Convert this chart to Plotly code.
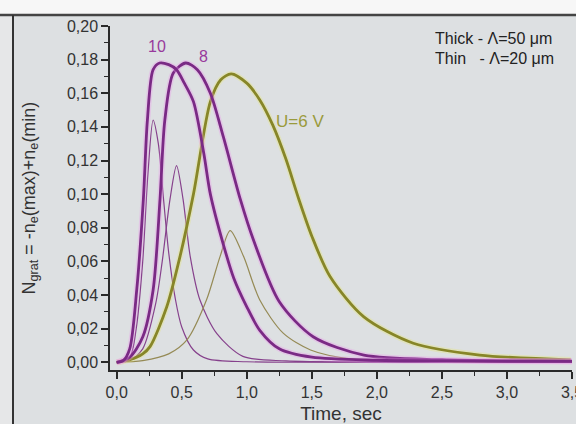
import plotly.graph_objects as go

# ---- data ----
thick10_x = [0, 0.05, 0.10, 0.154, 0.205, 0.236, 0.28, 0.33, 0.40, 0.46, 0.52, 0.59, 0.67, 0.72, 0.82, 0.90, 1.00, 1.10, 1.25, 1.50, 2.00, 2.50, 3.00, 3.50]
thick10_y = [0, 0.001, 0.008, 0.043, 0.097, 0.144, 0.174, 0.178, 0.177, 0.174, 0.166, 0.155, 0.124, 0.100, 0.070, 0.050, 0.033, 0.019, 0.008, 0.003, 0.0012, 0.0008, 0.0006, 0.0005]

thick8_x = [0, 0.10, 0.20, 0.28, 0.333, 0.37, 0.435, 0.53, 0.62, 0.72, 0.82, 0.95, 1.05, 1.25, 1.51, 1.90, 2.50, 3.00, 3.50]
thick8_y = [0, 0.003, 0.015, 0.043, 0.097, 0.144, 0.172, 0.178, 0.174, 0.160, 0.134, 0.097, 0.073, 0.036, 0.0152, 0.0043, 0.0015, 0.0008, 0.0006]

thick6_x = [0, 0.10, 0.20, 0.256, 0.385, 0.487, 0.59, 0.72, 0.80, 0.88, 1.00, 1.10, 1.20, 1.30, 1.40, 1.50, 1.64, 1.90, 2.28, 2.79, 3.49]
thick6_y = [0, 0.0015, 0.005, 0.0093, 0.033, 0.063, 0.100, 0.155, 0.168, 0.1715, 0.166, 0.156, 0.141, 0.121, 0.097, 0.075, 0.051, 0.027, 0.0113, 0.0043, 0.0014]

thin10_x = [0, 0.10, 0.15, 0.20, 0.24, 0.28, 0.32, 0.36, 0.40, 0.45, 0.50, 0.59, 0.70, 1.00, 2.00, 3.50]
thin10_y = [0, 0.003, 0.020, 0.060, 0.112, 0.144, 0.130, 0.097, 0.065, 0.038, 0.021, 0.0073, 0.002, 0.0003, 0.0001, 0.0]

thin8_x = [0, 0.10, 0.20, 0.30, 0.35, 0.41, 0.46, 0.51, 0.565, 0.64, 0.77, 0.97, 1.30, 2.00, 3.50]
thin8_y = [0, 0.001, 0.008, 0.035, 0.060, 0.097, 0.117, 0.097, 0.063, 0.037, 0.017, 0.0035, 0.0008, 0.0002, 0.0]

thin6_x = [0, 0.20, 0.40, 0.54, 0.69, 0.795, 0.872, 0.975, 1.10, 1.28, 1.49, 1.80, 2.50, 3.50]
thin6_y = [0, 0.001, 0.005, 0.0133, 0.037, 0.063, 0.0783, 0.063, 0.037, 0.0173, 0.0073, 0.002, 0.0005, 0.0]

y_ticks = [0.00, 0.02, 0.04, 0.06, 0.08, 0.10, 0.12, 0.14, 0.16, 0.18, 0.20]
x_ticks = [0.0, 0.5, 1.0, 1.5, 2.0, 2.5, 3.0, 3.5]

PURPLE = "#7a2a85"
PURPLE_THIN = "#86418c"
OLIVE = "#878628"
OLIVE_THIN = "#958a55"
HALO = "rgba(235,150,235,0.35)"
BG = "#dde0e2"
FONT = "Arial, Liberation Sans, sans-serif"
TXT = "#333333"

fig = go.Figure()

def add(x, y, color, width, halo=None):
    if halo:
        fig.add_trace(go.Scatter(x=x, y=y, mode="lines",
                                 line=dict(color=halo, width=width + 3, shape="spline", smoothing=0.8),
                                 hoverinfo="skip", showlegend=False))
    fig.add_trace(go.Scatter(x=x, y=y, mode="lines",
                             line=dict(color=color, width=width, shape="spline", smoothing=0.8),
                             showlegend=False))

add(thin10_x, thin10_y, PURPLE_THIN, 1.2)
add(thin8_x, thin8_y, PURPLE_THIN, 1.2)
add(thin6_x, thin6_y, OLIVE_THIN, 1.2)
add(thick6_x, thick6_y, OLIVE, 2.8, halo="rgba(230,230,120,0.35)")
add(thick8_x, thick8_y, PURPLE, 2.8, halo=HALO)
add(thick10_x, thick10_y, PURPLE, 2.8, halo=HALO)

axis_common = dict(
    showline=True, linecolor="#2a2a2a", linewidth=1.5,
    ticks="outside", tickcolor="#2a2a2a", tickwidth=1.5, ticklen=7,
    showgrid=False, zeroline=False, mirror=False,
    tickfont=dict(family=FONT, size=16, color=TXT),
    ticklabeloverflow="allow",
    automargin=False,
)

fig.update_layout(
    width=576, height=424,
    margin=dict(l=110, r=4, t=26, b=54),
    paper_bgcolor=BG, plot_bgcolor=BG,
    separators=", ",
    font=dict(family=FONT, color=TXT),
    xaxis=dict(range=[-0.0515, 3.5], tickvals=x_ticks, tickformat=".1f",
               minor=dict(ticks="outside", ticklen=4, tickcolor="#2a2a2a", tickwidth=1.2, dtick=0.25, tick0=0, showgrid=False),
               title=dict(text="Time, sec", font=dict(family=FONT, size=19, color=TXT), standoff=19),
               **axis_common),
    yaxis=dict(range=[-0.0046, 0.2], tickvals=y_ticks, tickformat=".2f",
               minor=dict(ticks="outside", ticklen=4, tickcolor="#2a2a2a", tickwidth=1.2, dtick=0.01, tick0=0, showgrid=False),
               title=dict(text="N<sub>grat</sub> = -n<sub>e</sub>(max)+n<sub>e</sub>(min)",
                          font=dict(family=FONT, size=18, color=TXT), standoff=27),
               **axis_common),
)

# annotations
fig.add_annotation(x=0.31, y=0.188, text="10", showarrow=False,
                   font=dict(family=FONT, size=16, color="#983a9c"))
fig.add_annotation(x=0.67, y=0.182, text="8", showarrow=False,
                   font=dict(family=FONT, size=16, color="#983a9c"))
fig.add_annotation(x=1.41, y=0.143, text="U=6 V", showarrow=False,
                   font=dict(family=FONT, size=17, color="#9a9a3c"))
fig.add_annotation(x=2.43, y=0.1924, text="Thick - \u039b=50 \u03bcm", showarrow=False, xanchor="left",
                   font=dict(family=FONT, size=16, color="#222222"))
fig.add_annotation(x=2.43, y=0.1805, text="Thin\u00a0\u00a0\u00a0- \u039b=20 \u03bcm", showarrow=False, xanchor="left",
                   font=dict(family=FONT, size=16, color="#222222"))

# frame: white strip at top, dark border lines (paper coords)
def px2pap_x(px):
    return (px - 110) / 462.0

def px2pap_y(py):
    return (370 - py) / 344.0

fig.add_shape(type="rect", xref="paper", yref="paper",
              x0=px2pap_x(-5), x1=px2pap_x(585), y0=px2pap_y(14), y1=px2pap_y(-5),
              fillcolor="#f7f7f7", line=dict(width=0), layer="below")
fig.add_shape(type="rect", xref="paper", yref="paper",
              x0=px2pap_x(-5), x1=px2pap_x(12), y0=px2pap_y(430), y1=px2pap_y(14),
              fillcolor="#e6e7e8", line=dict(width=0), layer="below")
fig.add_shape(type="line", xref="paper", yref="paper",
              x0=px2pap_x(0), x1=px2pap_x(580), y0=px2pap_y(15), y1=px2pap_y(15),
              line=dict(color="#444444", width=2.5))
fig.add_shape(type="line", xref="paper", yref="paper",
              x0=px2pap_x(13), x1=px2pap_x(13), y0=px2pap_y(15), y1=px2pap_y(430),
              line=dict(color="#333333", width=2))

fig.write_html("out.html")
